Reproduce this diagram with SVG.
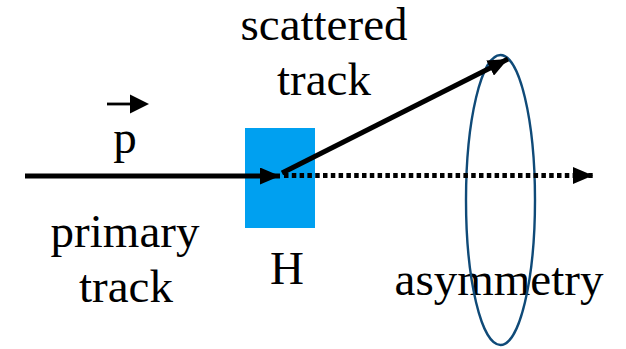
<svg xmlns="http://www.w3.org/2000/svg" width="626" height="349" viewBox="0 0 626 349">
<style>
.t{font-family:'Liberation Serif','Times New Roman','DejaVu Serif',serif;font-size:47px;fill:#000;text-anchor:middle}
.trk{stroke:#000;stroke-width:5;fill:none}
</style>
<defs>
<marker id="ah" viewBox="0 0 20 17" refX="20" refY="8.5" markerWidth="20" markerHeight="17" markerUnits="userSpaceOnUse" orient="auto">
<path d="M0,0 L20,8.5 L0,17 Z" fill="#000"/>
</marker>
</defs>
<rect width="626" height="349" fill="#fff"/>
<g id="target">
<rect x="245" y="128" width="70" height="100" fill="#00A0F0"/>
<text class="t" x="287" y="284">H</text>
</g>
<g id="labels">
<text class="t" x="125" y="247">primary</text>
<text class="t" x="126" y="302">track</text>
<text class="t" x="324" y="40">scattered</text>
<text class="t" x="324" y="95">track</text>
<text class="t" x="125" y="153">p</text>
<line x1="107" y1="104" x2="133" y2="104" stroke="#000" stroke-width="2.8"/>
<path d="M130,94.5 L149,104 L130,113.5 Z" fill="#000"/>
</g>
<g id="asymmetry">
<text class="t" x="499" y="295">asymmetry</text>
<ellipse cx="500.5" cy="200" rx="34.5" ry="145" fill="none" stroke="#0F4A78" stroke-width="2.4"/>
</g>
<g id="connectors">
<line class="trk" x1="25" y1="176" x2="280" y2="176" marker-end="url(#ah)"/>
<line class="trk" x1="284" y1="175.5" x2="593" y2="175.5" stroke-dasharray="4.5 3.3" marker-end="url(#ah)"/>
<line class="trk" x1="282" y1="173" x2="508" y2="59" marker-end="url(#ah)"/>
</g>
</svg>
